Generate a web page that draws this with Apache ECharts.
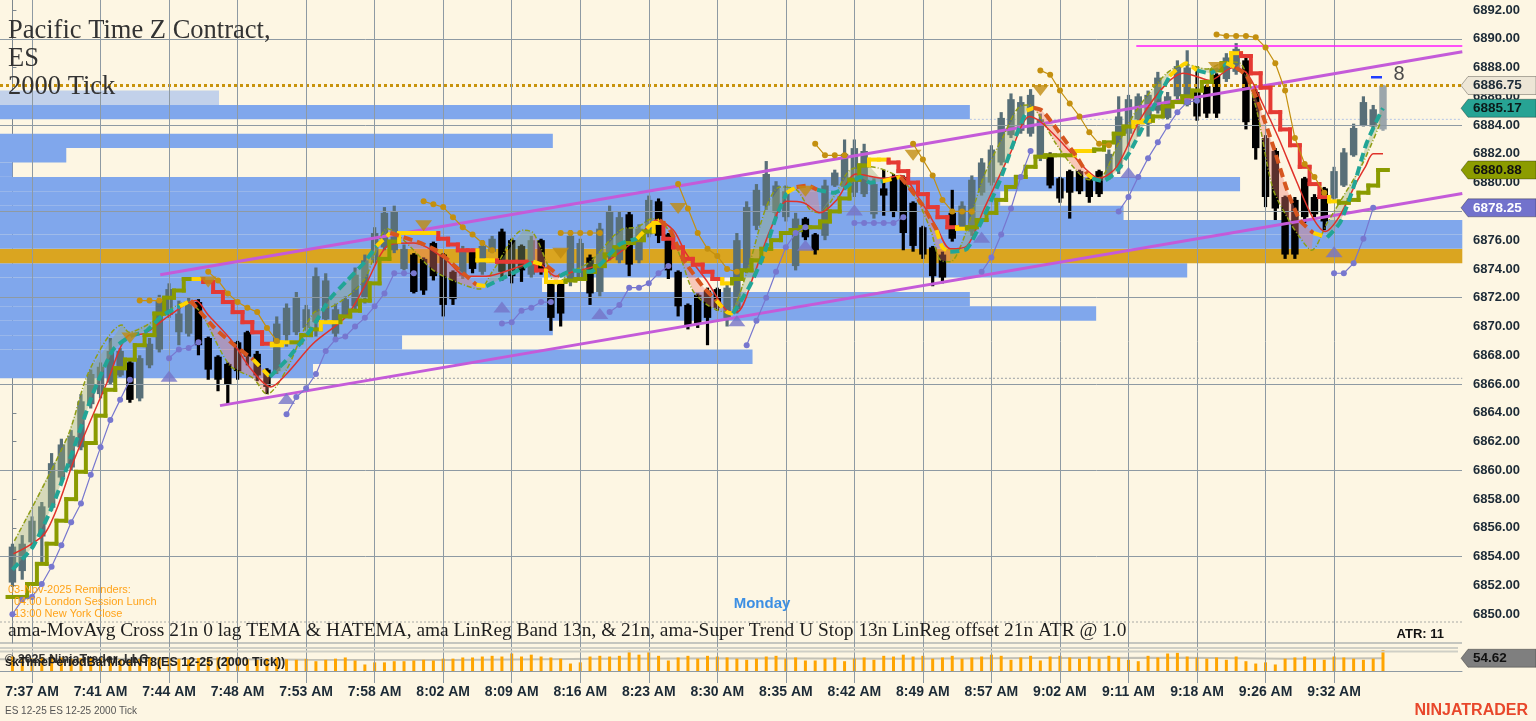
<!DOCTYPE html>
<html><head><meta charset="utf-8">
<script src="https://cdn.jsdelivr.net/npm/echarts@6/dist/echarts.min.js"></script>
<style>html,body{margin:0;padding:0;background:#fdf6e3;}#c{width:1536px;height:721px;}</style>
</head><body><div id="c"></div>
<script>
// ---------- data ----------
const timeLabels = ['7:37 AM','7:41 AM','7:44 AM','7:48 AM','7:53 AM','7:58 AM','8:02 AM','8:09 AM','8:16 AM','8:23 AM','8:30 AM','8:35 AM','8:42 AM','8:49 AM','8:57 AM','9:02 AM','9:11 AM','9:18 AM','9:26 AM','9:32 AM'];
const labelBars = [2,9,16,23,30,37,44,51,58,65,72,79,86,93,100,107,114,121,128,135];
const gridLevels = [6854,6860,6866,6872,6878,6884,6890];

const candleOpen = [6852.2,6853.0,6855.0,6855.4,6857.4,6859.5,6860.2,6861.6,6864.6,6865.3,6866.1,6866.6,6867.5,6865.0,6867.3,6868.4,6870.8,6869.6,6869.5,6871.7,
6869.2,6867.9,6867.4,6868.9,6869.6,6868.1,6867.0,6866.9,6869.4,6869.6,6869.9,6870.3,6870.5,6869.5,6870.8,6871.4,6872.0,6874.6,6875.5,6875.3,
6874.0,6875.0,6874.7,6875.8,6875.0,6873.8,6873.5,6875.3,6873.8,6875.2,6876.6,6876.0,6875.6,6873.6,6876.0,6873.0,6873.0,6873.2,6873.4,6874.8,
6872.4,6874.8,6874.6,6877.8,6874.6,6876.4,6878.7,6876.4,6873.8,6871.5,6872.2,6872.5,6872.6,6870.6,6871.2,6874.0,6877.0,6878.4,6877.9,6877.6,
6874.2,6877.5,6876.4,6876.3,6879.8,6879.7,6879.3,6879.2,6877.8,6879.6,6880.4,6880.4,6878.6,6876.9,6875.5,6875.0,6877.9,6876.9,6876.6,6879.3,
6880.0,6881.4,6883.3,6883.6,6883.4,6881.7,6882.0,6880.3,6880.8,6880.8,6880.3,6880.8,6880.3,6881.0,6883.4,6884.4,6884.1,6885.0,6884.5,6886.0,
6885.4,6886.3,6886.7,6887.5,6887.2,6887.7,6888.5,6886.3,6883.1,6882.2,6879.0,6878.8,6880.3,6879.0,6879.6,6878.9,6879.8,6881.9,6884.0,6883.9,6883.7];
const candleHigh = [6854.9,6855.5,6856.8,6857.8,6861.2,6862.2,6862.8,6865.3,6867.0,6867.5,6869.2,6868.5,6867.6,6868.0,6869.2,6872.2,6873.0,6871.8,6872.0,6871.9,
6869.3,6868.0,6867.5,6869.0,6869.7,6868.3,6867.1,6870.7,6871.6,6872.4,6871.5,6874.1,6873.7,6871.6,6872.1,6874.1,6875.0,6876.9,6878.3,6878.4,
6875.7,6875.1,6874.8,6875.9,6875.1,6873.9,6875.6,6875.4,6876.0,6876.3,6876.8,6876.1,6875.7,6876.3,6876.1,6873.1,6873.1,6876.7,6876.1,6875.0,
6877.2,6878.4,6878.0,6878.0,6877.1,6879.1,6878.9,6876.5,6873.9,6871.6,6872.3,6872.7,6872.7,6873.1,6876.5,6878.7,6879.9,6881.5,6880.1,6879.8,
6877.9,6877.6,6876.5,6880.2,6880.9,6883.0,6883.0,6882.7,6880.3,6880.9,6880.6,6880.5,6878.7,6877.0,6875.6,6875.2,6879.5,6878.7,6880.5,6881.7,
6882.6,6884.9,6886.2,6886.0,6886.5,6884.8,6882.1,6880.4,6880.9,6880.9,6880.4,6880.9,6882.3,6886.0,6886.1,6886.2,6886.4,6887.7,6886.3,6888.5,
6889.2,6888.1,6886.8,6887.6,6889.0,6889.7,6888.7,6886.5,6883.3,6882.4,6879.1,6879.0,6880.4,6879.2,6879.7,6881.1,6882.4,6884.1,6886.0,6885.4,6886.8];
const candleLow = [6851.9,6852.4,6854.7,6853.5,6857.2,6859.1,6860.0,6861.4,6864.3,6865.0,6866.0,6866.5,6864.7,6864.8,6867.1,6868.2,6870.6,6868.7,6869.3,6868.0,
6866.3,6865.5,6864.6,6866.3,6867.3,6866.2,6865.3,6866.7,6868.6,6869.4,6869.7,6869.3,6870.2,6869.1,6870.7,6871.1,6871.6,6874.4,6875.3,6875.1,
6873.9,6872.3,6872.2,6873.2,6870.7,6871.5,6873.3,6873.7,6873.6,6875.1,6873.2,6873.0,6873.1,6873.4,6873.6,6869.7,6870.0,6872.8,6873.2,6871.5,
6872.1,6874.6,6874.4,6873.5,6874.4,6876.2,6875.8,6873.3,6870.7,6869.8,6869.9,6868.7,6871.1,6870.0,6870.9,6873.7,6876.7,6878.1,6877.6,6877.3,
6873.9,6876.0,6875.0,6876.0,6879.7,6879.5,6879.0,6879.0,6877.5,6877.7,6877.6,6875.3,6875.2,6874.7,6872.8,6873.0,6875.9,6876.7,6876.3,6879.1,
6879.8,6881.2,6883.1,6883.4,6883.2,6881.5,6879.6,6878.6,6877.5,6879.2,6878.6,6879.0,6880.2,6880.6,6882.5,6883.2,6883.2,6884.8,6884.4,6885.8,
6885.3,6884.3,6884.5,6884.5,6887.0,6887.5,6883.7,6881.6,6878.3,6877.4,6874.7,6874.7,6877.2,6877.6,6876.7,6878.8,6879.7,6881.8,6883.9,6883.8,6883.6];
const candleClose = [6854.7,6854.9,6856.5,6857.5,6860.5,6861.8,6862.4,6864.8,6866.7,6867.2,6868.3,6868.3,6864.9,6867.8,6868.8,6871.8,6872.6,6870.9,6871.6,6868.7,
6867.0,6866.3,6866.0,6866.9,6867.9,6866.6,6865.8,6870.2,6871.3,6872.0,6871.2,6873.5,6873.2,6871.2,6871.9,6873.6,6874.6,6876.5,6877.9,6878.0,
6875.4,6872.4,6872.5,6873.5,6871.5,6871.9,6875.2,6874.0,6875.6,6876.1,6873.8,6873.5,6873.9,6876.0,6874.0,6870.6,6870.9,6876.3,6875.8,6872.3,
6876.8,6878.0,6877.6,6874.3,6876.8,6878.8,6876.3,6873.9,6871.4,6870.1,6870.2,6870.6,6871.3,6872.7,6876.0,6878.3,6879.5,6880.6,6879.8,6879.4,
6877.5,6876.2,6875.3,6879.8,6880.7,6882.0,6882.4,6882.2,6879.9,6879.1,6878.0,6876.5,6875.6,6875.0,6873.5,6873.4,6876.1,6878.4,6880.2,6881.4,
6882.3,6884.5,6885.8,6885.6,6886.1,6884.4,6879.8,6878.9,6879.3,6879.4,6879.0,6879.2,6882.0,6884.6,6885.8,6886.0,6886.1,6887.3,6886.0,6888.1,
6888.0,6884.6,6884.8,6884.8,6888.7,6889.3,6884.2,6882.4,6879.0,6878.2,6875.0,6875.0,6877.6,6877.8,6877.3,6880.8,6882.1,6883.8,6885.6,6885.1,6886.75];

const volume = [62,58,55,60,66,58,52,55,60,57,54,50,48,52,60,58,55,52,50,56,54,58,60,52,50,48,55,58,50,48,52,
42,48,53,58,45,28,37,37,42,42,45,48,45,53,53,58,58,62,65,62,75,62,70,62,58,53,32,37,62,65,62,65,87,70,82,65,45,58,65,53,
65,62,58,53,48,53,62,65,53,58,45,45,53,58,42,53,58,48,65,62,70,62,65,53,58,65,53,58,62,70,65,48,58,65,45,62,65,58,53,62,
53,65,58,48,42,65,58,75,78,62,58,53,58,48,62,42,32,37,28,53,58,62,53,48,62,58,53,48,53,98];
const volumeAvg = [[-1.27,50],[15,52],[30,48],[45,47],[60,52],[75,55],[90,53],[105,56],[120,57],[130,53],[140,54.62]];

// super-trend stop (L = long/olive, S = short/red, F = flip/yellow)
const stopVal = [6851.2,6851.2,6852.1,6853.5,6854.9,6856.5,6858.0,6859.9,6861.9,6863.8,6865.6,6867.1,6867.7,6868.7,6869.4,6870.9,6872.0,6872.5,6873.3,6873.3,
6873.1,6872.4,6871.7,6871.0,6870.3,6869.6,6868.8,6868.7,6868.9,6868.9,6869.4,6869.8,6870.3,6870.3,6870.7,6871.1,6871.8,6873.0,6874.7,6875.9,
6876.5,6876.5,6876.5,6876.5,6876.1,6875.7,6875.3,6875.3,6874.6,6874.6,6874.5,6874.5,6874.5,6874.4,6873.9,6873.1,6873.1,6873.2,6873.3,6873.8,
6874.2,6875.0,6875.5,6875.8,6876.0,6876.6,6877.2,6876.1,6875.5,6874.7,6874.3,6873.8,6873.3,6873.0,6873.3,6873.9,6874.6,6875.4,6876.0,6876.5,
6876.7,6876.9,6876.9,6877.3,6878.0,6878.9,6880.2,6881.2,6881.6,6881.6,6881.4,6880.8,6880.0,6879.2,6878.3,6877.6,6876.9,6876.8,6876.9,6877.4,
6877.9,6878.8,6879.7,6880.4,6881.1,6881.8,6881.9,6881.9,6881.9,6882.2,6882.2,6882.3,6882.8,6883.4,6883.9,6884.2,6884.3,6884.6,6885.3,6885.6,
6886.0,6886.4,6887.0,6887.8,6888.3,6889.0,6888.8,6887.6,6886.6,6884.9,6883.7,6882.6,6881.1,6879.9,6879.0,6878.7,6878.6,6878.8,6879.3,6879.8,6880.88];
const stopSide = ('LLLLLLLLLLLLLLLLLLL'+'F'+'SSSSSSS'+'FF'+'LLL'+'FF'+'LLLLLL'+'FFFF'+'SSSS'+'FF'+'SSSSS'+'FF'+'LLLLLLLLL'+'F'+'SSSSSS'+'F'+
  'LLLLLLLLLLLLLL'+'FF'+'SSSSSSS'+'F'+'LLLLLLLLLLL'+'FF'+'LLLL'+'FF'+'LLLLLLLL'+'F'+'SSSSSSSSS'+'F'+'LLLLL').split('');

// moving average (T teal up, O orange down, Y yellow turn)
const maPts = [[0,6853.1,'T'],[2.1,6854.7,'T'],[4.2,6857.7,'T'],[6.2,6861.4,'T'],[8.2,6865.3,'T'],[10.3,6868.4,'T'],[12,6869.3,'T'],[13.7,6869.7,'T'],[15.4,6870.8,'T'],
[17.1,6871.4,'Y'],[18.2,6871.8,'O'],[20.5,6870.0,'O'],[22.5,6868.8,'O'],[24.6,6867.7,'Y'],[26.3,6866.5,'T'],[28.3,6867.9,'T'],[30.7,6870.0,'T'],[32.4,6871.9,'T'],
[34.2,6873.2,'T'],[36.0,6874.5,'T'],[37.2,6875.6,'Y'],[38.6,6876.5,'O'],[41.3,6875.9,'O'],[43.3,6875.3,'O'],[45.7,6873.9,'O'],[47.4,6872.9,'Y'],[48.4,6872.8,'T'],
[51.1,6873.7,'T'],[53.2,6874.5,'Y'],[54.6,6874.2,'O'],[55.9,6873.5,'T'],[57.3,6873.9,'T'],[59,6873.8,'T'],[62,6875.7,'T'],[63.8,6876.1,'Y'],[65.1,6877.0,'Y'],
[66.1,6877.4,'O'],[67.2,6876.7,'O'],[68.5,6874.7,'O'],[70.5,6872.8,'O'],[71.9,6871.8,'Y'],[73,6871.0,'Y'],[73.6,6870.9,'T'],[75.3,6872.8,'T'],[76.7,6874.9,'T'],
[78,6877.6,'T'],[79.1,6879.3,'Y'],[80.1,6879.7,'O'],[81.2,6879.8,'O'],[82.2,6879.5,'T'],[83.9,6879.3,'T'],[85.2,6879.7,'T'],[86.6,6880.4,'T'],[87.6,6880.0,'T'],
[88.9,6880.1,'Y'],[90.7,6880.4,'O'],[92.9,6878.5,'O'],[94.4,6876.7,'Y'],[95,6875.5,'Y'],[95.8,6875.2,'T'],[97.5,6875.4,'T'],[99.2,6877.6,'T'],[100.9,6880.2,'T'],
[102.6,6883.4,'T'],[103.6,6885.0,'Y'],[104.3,6885.2,'O'],[105.2,6885.0,'O'],[106.7,6883.7,'O'],[108.7,6881.8,'O'],[109.8,6880.6,'Y'],[110.3,6880.3,'T'],
[111.4,6880.1,'T'],[112.8,6880.8,'T'],[114.2,6882.2,'T'],[115.5,6883.9,'T'],[116.9,6885.7,'T'],[118.2,6887.4,'Y'],[119.9,6888.3,'Y'],[121,6887.8,'T'],
[122.3,6887.6,'T'],[124,6888.3,'Y'],[125,6888.0,'O'],[126.1,6887.4,'O'],[127.4,6885.3,'O'],[128.8,6882.5,'O'],[130.2,6879.5,'O'],[131.5,6877.4,'O'],
[132.9,6876.5,'Y'],[134.3,6876.2,'T'],[135.6,6877.2,'T'],[136.9,6879.5,'T'],[138.3,6882.7,'T'],[139.7,6884.8,'T'],[140,6885.17,'T']];

const temaPts = [[0.1,6854.2],[3.4,6855.7],[6.4,6860.9],[9.6,6866.0],[11.9,6869.4],[13.4,6869.5],[15.9,6870.7],[18.7,6871.8],[20,6870.8],[22.3,6869.1],[24.3,6867.1],
[26.4,6865.8],[28,6866.7],[30.7,6868.8],[34.1,6870.7],[36,6872.8],[38.6,6875.7],[41,6875.8],[44,6874.8],[46.4,6873.5],[48.4,6873.5],[51.1,6874.0],[53.5,6874.5],
[55.5,6873.5],[57.3,6873.8],[60.4,6874.4],[63.8,6876.1],[65.8,6877.4],[67.5,6876.7],[68.8,6875.1],[70.9,6873.2],[73,6871.1],[74,6871.0],[75.7,6873.5],[77.4,6876.7],
[79.1,6878.7],[80.8,6878.6],[82.5,6877.9],[84.2,6878.8],[86.2,6880.6],[89,6880.3],[90.7,6880.5],[92.7,6878.8],[94.4,6876.9],[95.8,6875.4],[97.5,6875.6],[99.2,6878.1],
[101.9,6882.0],[103.9,6884.6],[104.9,6884.3],[107.3,6882.7],[109.7,6880.9],[111,6880.3],[112.8,6881.1],[115.2,6884.4],[117.9,6886.9],[119.6,6887.6],[120.9,6887.4],
[122.3,6887.1],[124.7,6888.0],[126.1,6887.6],[127.7,6885.5],[129.4,6883.0],[131.1,6880.2],[132.8,6877.6],[134.1,6876.6],[135.5,6877.6],[137.2,6879.9],[138.2,6881.1],
[139,6882.0],[140,6882.0]];

const bandPts = [[0.2,6855.1],[5.6,6862.3],[7.9,6867.0],[11.2,6870.1],[11.9,6869.6],[14.5,6870.4],[17.8,6871.7],[19.2,6871.0],[22.2,6867.3],[24.6,6866.4],[26,6865.3],
[28,6867.0],[30.7,6870.9],[33,6871.5],[35.9,6873.2],[38.3,6876.8],[39,6876.6],[41,6875.3],[43,6873.9],[45.7,6873.0],[47.7,6872.6],[49.1,6873.9],[52.2,6876.7],
[53.2,6876.5],[54.6,6874.4],[55.5,6872.9],[56.9,6873.7],[59,6874.5],[62.4,6876.8],[63.8,6876.9],[65.4,6877.5],[66.8,6876.9],[68.2,6874.9],[69.5,6872.5],[71.2,6871.4],
[73,6871.0],[73.6,6871.1],[75.3,6874.4],[77,6878.3],[78.4,6879.7],[80.1,6879.5],[81.5,6878.1],[82.5,6877.9],[83.9,6879.0],[85.6,6880.9],[87.6,6881.1],[90.7,6880.3],
[92.4,6878.8],[93.8,6876.7],[94.8,6874.6],[95.8,6874.5],[97.1,6876.0],[99.2,6880.4],[101.2,6883.2],[102.9,6885.3],[103.9,6885.4],[105.3,6884.2],[106.6,6882.7],
[108.6,6880.9],[110,6880.2],[111.4,6880.5],[112.8,6882.5],[114.8,6885.0],[117.9,6887.6],[119.9,6888.2],[122,6887.9],[124,6888.4],[125.4,6888.3],[127,6885.3],
[128.7,6879.7],[130.2,6877.6],[131.5,6876.2],[132.7,6875.3],[134.3,6877.2],[135.9,6879.0],[137.9,6881.3],[139.7,6884.1]];

// fill between band and MA: [from, to, U/D]
const fillSegs = [[0,17.1,'U'],[17.1,26.3,'D'],[26.3,38.3,'U'],[38.3,48.4,'D'],[48.4,53.2,'U'],[53.2,55.9,'D'],[55.9,65.4,'U'],[65.4,73.6,'D'],[73.6,80.1,'U'],
[80.1,82.5,'D'],[82.5,89,'U'],[89,95.8,'D'],[95.8,104,'U'],[104,110,'D'],[110,125,'U'],[125,133,'D'],[133,140,'U']];

const goldSegs = [
 [[13,6871.8],[14,6871.8],[15,6871.8]],
 [[20,6873.8],[21,6873.2],[22,6872.3],[23,6871.7],[24,6871.3],[25,6871.0],[26,6869.9],[27,6869.0]],
 [[42,6878.7],[43,6878.5],[44,6878.3],[45,6877.6],[46,6876.9],[47,6876.4],[48,6875.8],[49,6875.3]],
 [[56,6876.5],[57,6876.5],[58,6876.5],[59,6876.5],[60,6876.5]],
 [[68,6879.9],[69,6878.2],[70,6876.5],[71,6875.4],[72,6874.9],[73,6874.0],[74,6873.8]],
 [[82,6882.7],[83,6881.9],[84,6881.9],[85,6881.9]],
 [[92,6882.7],[93,6881.6],[94,6880.5],[95,6878.8],[96,6878.0],[97,6878.0],[98,6878.0]],
 [[105,6887.8],[106,6887.5],[107,6886.4],[108,6885.5],[109,6884.6],[110,6883.5],[111,6882.7],[112,6882.6]],
 [[123,6890.3],[124,6890.2],[125,6890.2],[126,6890.2],[127,6890.1],[128,6889.4],[129,6888.3],[130,6886.4],[131,6883.1],[132,6881.3],[133,6880.4],[134,6879.3]]
];
const purpleSegs = [
 [[0,6850.0],[1,6851.0],[2,6851.2],[3,6852.1],[4,6853.3],[5,6854.8],[6,6856.4],[7,6857.7],[8,6859.7],[9,6861.6],[10,6863.5],[11,6864.9],[12,6866.3]],
 [[16,6867.8],[17,6868.4],[18,6868.5],[19,6868.9]],
 [[28,6863.9],[29,6865.1],[30,6865.7],[31,6866.7],[32,6868.3],[33,6869.1],[34,6869.3],[35,6870.0],[36,6870.6],[37,6871.4],[38,6872.3],[39,6873.7],[40,6873.7],[41,6873.7]],
 [[50,6870.2],[51,6870.3],[52,6871.1],[53,6871.3],[54,6871.7],[55,6871.7]],
 [[61,6871.0],[62,6871.5],[63,6872.7],[64,6872.7],[65,6873.0],[66,6873.7],[67,6874.2]],
 [[75,6868.7],[76,6870.4],[77,6872.0],[78,6873.8],[79,6875.5],[80,6876.5],[81,6876.9]],
 [[86,6877.2],[87,6877.2],[88,6877.2],[89,6877.2],[90,6877.2],[91,6877.6]],
 [[99,6873.8],[100,6874.8],[101,6876.4],[102,6878.2],[103,6880.4],[104,6882.2]],
 [[113,6878.0],[114,6879.0],[115,6880.4],[116,6881.7],[117,6882.8],[118,6883.9],[119,6884.9],[120,6885.6],[121,6885.7]],
 [[135,6873.7],[136,6873.7],[137,6874.4],[138,6876.1],[139,6878.25]]
];
const upTriangles = [[16,6866.55],[28,6865.0],[50,6871.35],[60,6870.9],[74,6870.4],[81,6875.65],[86,6878.1],[99,6876.2],[114,6880.7],[135,6875.2]];
const downTriangles = [[12,6869.2],[20,6873.1],[42,6877.0],[56,6875.1],[68,6878.2],[81,6879.4],[92,6881.9],[105,6886.4],[123,6888.0]];

// volume profile rows (1 pt tall): low price, right end (bar index), kind
const profLow = [6866.4,6867.4,6868.4,6869.4,6870.4,6871.4,6872.4,6873.4,6874.4,6875.4,6876.4,6877.4,6878.4,6879.4,6880.4,6881.4,6882.4,6883.4,6884.4,6885.4];
const profEnd = [30.7,75.6,39.8,55.2,110.7,97.8,54.1,120.0,148.1,148.1,148.1,113.5,100.9,125.4,0.0,5.5,55.2,null,97.8,21.1];
const profKind = ['b','b','b','b','b','b','b','b','o','b','b','b','b','b','b','b','b','b','b','l'];

const chanUpper = [[15.1,6873.6],[148.1,6889.1]];
const chanLower = [[21.2,6864.5],[148.1,6879.25]];
const highLine = [[114.8,6889.5],[148.1,6889.5]];
const nakedGrey = [[30.7,6866.4],[148.1,6866.4]];
const nakedBlue = [[97.8,6884.4],[148.1,6884.4]];

// ---------- layout constants ----------
const X_MIN = -1.27, X_MAX = 148.07, Y_MIN = 6848, Y_MAX = 6892.695, VOL_MAX = 90;
const N = candleClose.length;
const lastPrice = candleClose[N-1];
const lastMA = maPts[maPts.length-1][1];
const lastStop = stopVal[stopVal.length-1];
const lastPurple = purpleSegs[purpleSegs.length-1].slice(-1)[0][1];
const lastVolAvg = volumeAvg[volumeAvg.length-1][1];

const chart = echarts.init(document.getElementById('c'));
const AX = '#8e9aa3';
const SANS = '"Liberation Sans", Arial, sans-serif';
const LBL = {fontFamily:'Liberation Sans, Arial, sans-serif', fontWeight:'bold', color:'#1c2a36'};
const series = [];

// profile
series.push({type:'custom', xAxisIndex:0, yAxisIndex:0, z:1, silent:true,
  data: profLow.map((p,k)=>[profEnd[k], p, k]).filter(d=>d[0]!==null),
  encode:{x:0,y:1},
  renderItem:(params, api)=>{
    const end=api.value(0), low=api.value(1), k=api.value(2);
    const a=api.coord([X_MIN, low+1]), b=api.coord([end, low]);
    const fill = profKind[k]==='o' ? '#daa520' : (profKind[k]==='l' ? '#c2d1ea' : '#80a7ec');
    return {type:'rect', shape:{x:a[0]-2, y:a[1], width:b[0]-a[0]+2, height:b[1]-a[1]}, style:{fill}};
  }});
// horizontal grid
series.push({type:'line', xAxisIndex:0, yAxisIndex:0, data:[], z:2, silent:true,
  markLine:{symbol:'none', silent:true, animation:false, label:{show:false}, lineStyle:{color:AX, width:1, type:'solid'},
    data: gridLevels.map(v=>({yAxis:v}))}});
// vertical grid (full height)
series.push({type:'line', xAxisIndex:2, yAxisIndex:2, data:[], z:2, silent:true,
  markLine:{symbol:'none', silent:true, animation:false, label:{show:false}, lineStyle:{color:AX, width:1, type:'solid'},
    data: labelBars.map(v=>({xAxis:v}))}});
// naked levels
[[nakedGrey,'#9aa0a6',[2,2]],[nakedBlue,'#b5c6e6',[2,2]]].forEach(([d,c,t])=>{
  series.push({type:'line', xAxisIndex:0, yAxisIndex:0, data:d, z:2, symbol:'none', silent:true, lineStyle:{color:c, width:1, type:t}});
});
// last price dotted
series.push({type:'line', xAxisIndex:0, yAxisIndex:0, data:[[X_MIN,lastPrice],[X_MAX,lastPrice]], z:3, symbol:'none', silent:true,
  lineStyle:{color:'#c8930c', width:3, type:[3,3]}});
// candles
series.push({type:'custom', xAxisIndex:0, yAxisIndex:0, z:3, silent:true,
  data: candleClose.map((c,i)=>[i, candleOpen[i], c, candleLow[i], candleHigh[i]]),
  encode:{x:0, y:[1,2,3,4]},
  renderItem:(params, api)=>{
    const i=api.value(0), o=api.value(1), c=api.value(2), l=api.value(3), h=api.value(4);
    const pO=api.coord([i,o]), pC=api.coord([i,c]), pL=api.coord([i,l]), pH=api.coord([i,h]);
    const bw = api.size([1,0])[0]*0.76;
    const col = i===N-1 ? '#9ca6ab' : (c>=o ? '#586f78' : '#000000');
    const top=Math.min(pO[1],pC[1]), bot=Math.max(pO[1],pC[1]);
    return {type:'group', children:[
      {type:'rect', shape:{x:pH[0]-1.6, y:pH[1], width:3.2, height:pL[1]-pH[1]}, style:{fill:col}},
      {type:'rect', shape:{x:pO[0]-bw/2, y:top, width:bw, height:Math.max(bot-top,2)}, style:{fill:col}}
    ]};
  }});
// fills
series.push({type:'custom', xAxisIndex:0, yAxisIndex:0, z:4, silent:true,
  data: fillSegs.map(f=>[f[0], bandPts.find(p=>p[0]>=f[0])[1]]),
  encode:{x:0,y:1},
  renderItem:(params, api)=>{
    const f=fillSegs[params.dataIndex];
    const top=bandPts.filter(p=>p[0]>=f[0]&&p[0]<=f[1]);
    const bot=maPts.filter(p=>p[0]>=f[0]&&p[0]<=f[1]).slice().reverse();
    const pts=top.concat(bot).map(p=>api.coord([p[0],p[1]]));
    return {type:'polygon', shape:{points:pts}, style:{fill: f[2]==='U' ? 'rgba(150,172,120,0.38)' : 'rgba(240,125,115,0.38)'}};
  }});
// channel + magenta
[chanUpper, chanLower].forEach(d=>series.push({type:'line', xAxisIndex:0, yAxisIndex:0, data:d, z:5, symbol:'none', silent:true, lineStyle:{color:'#c45bd9', width:3}}));
series.push({type:'line', xAxisIndex:0, yAxisIndex:0, data:highLine, z:5, symbol:'none', silent:true, lineStyle:{color:'#ff1aff', width:1.5}});
// band (olive dash-dot)
series.push({type:'line', xAxisIndex:0, yAxisIndex:0, data:bandPts, z:6, symbol:'none', silent:true, smooth:0.3, lineStyle:{color:'#8f9d14', width:1.5, type:[5,2,1,2]}});
// TEMA
series.push({type:'line', xAxisIndex:0, yAxisIndex:0, data:temaPts, z:6, symbol:'none', silent:true, smooth:0.3, lineStyle:{color:'#e0322a', width:1.5}});
// stop
const SIDE = {L:'#8a9b00', S:'#e53a33', F:'#ffd400'};
series.push({type:'custom', xAxisIndex:0, yAxisIndex:0, z:7, silent:true,
  data: stopVal.map((v,i)=>[i,v]), encode:{x:0,y:1},
  renderItem:(params, api)=>{
    const i=api.value(0), v=api.value(1);
    const a=api.coord([i-0.5,v]), b=api.coord([i+0.5,v]);
    const col=SIDE[stopSide[i]];
    const ch=[{type:'line', shape:{x1:a[0],y1:a[1],x2:b[0],y2:b[1]}, style:{stroke:col, lineWidth:4, lineCap:'square'}}];
    if(i>0){const c=api.coord([i-0.5, stopVal[i-1]]); ch.push({type:'line', shape:{x1:c[0],y1:c[1],x2:a[0],y2:a[1]}, style:{stroke:col, lineWidth:4, lineCap:'square'}});}
    return {type:'group', children:ch};
  }});
// MA dashed segments
const MA_COL = {T:'#22a596', O:'#d6561f', Y:'#ffd400'};
(function(){
  let run=[maPts[0]];
  for(let k=1;k<maPts.length;k++){
    run.push(maPts[k]);
    if(maPts[k][2]!==maPts[k-1][2] || k===maPts.length-1){
      series.push({type:'line', xAxisIndex:0, yAxisIndex:0, z:7, symbol:'none', silent:true, smooth:0.2,
        data: run.map(p=>[p[0],p[1]]), lineStyle:{color:MA_COL[maPts[k-1][2]], width:4, type:[9,5]}});
      run=[maPts[k]];
    }
  }
})();
// gold / purple dotted lines
goldSegs.forEach(d=>series.push({type:'line', xAxisIndex:0, yAxisIndex:0, data:d, z:8, symbol:'circle', symbolSize:6, silent:true,
  itemStyle:{color:'#c4900f'}, lineStyle:{color:'#c4900f', width:1.2}}));
purpleSegs.forEach(d=>series.push({type:'line', xAxisIndex:0, yAxisIndex:0, data:d, z:8, symbol:'circle', symbolSize:6, silent:true,
  itemStyle:{color:'#7777cf'}, lineStyle:{color:'#7777cf', width:1.2}}));
// triangles
series.push({type:'scatter', xAxisIndex:0, yAxisIndex:0, data:upTriangles, z:9, symbol:'triangle', symbolSize:[17,11], silent:true, itemStyle:{color:'#7474c8'}});
series.push({type:'scatter', xAxisIndex:0, yAxisIndex:0, data:downTriangles, z:9, symbol:'triangle', symbolRotate:180, symbolSize:[17,11], silent:true, itemStyle:{color:'#c08c10'}});
// volume
series.push({type:'bar', xAxisIndex:1, yAxisIndex:1, data: volume.map((v,i)=>[i,v]), barWidth:3, silent:true, itemStyle:{color:'#ffa500'}, z:3});
series.push({type:'line', xAxisIndex:1, yAxisIndex:1, data: volumeAvg, symbol:'none', silent:true, z:2, lineStyle:{color:'#c3c1b6', width:2}});

chart.setOption({
  animation:false,
  backgroundColor:'#fdf6e3',
  grid:[
    {left:0, top:0, width:1462, height:643},
    {left:0, top:650, width:1462, height:21},
    {left:0, top:0, width:1462, height:683}
  ],
  xAxis:[
    {gridIndex:0, type:'value', min:X_MIN, max:X_MAX, show:false},
    {gridIndex:1, type:'value', min:X_MIN, max:X_MAX, offset:4,
      axisLine:{show:true, lineStyle:{color:AX}},
      axisTick:{show:true, customValues:labelBars, length:8, lineStyle:{color:AX}},
      axisLabel:Object.assign({customValues:labelBars, fontSize:14, margin:10,
        formatter:(v)=>timeLabels[labelBars.indexOf(Math.round(v))]||''}, LBL),
      splitLine:{show:false}},
    {gridIndex:2, type:'value', min:X_MIN, max:X_MAX, show:false}
  ],
  yAxis:[
    {gridIndex:0, type:'value', position:'right', min:Y_MIN, max:Y_MAX, interval:2,
      axisLine:{show:true, lineStyle:{color:'#7d878e'}},
      axisTick:{show:true, length:4, lineStyle:{color:'#7d878e'}},
      axisLabel:Object.assign({showMinLabel:false, showMaxLabel:false, fontSize:13, margin:11, formatter:(v)=>v.toFixed(2)}, LBL),
      splitLine:{show:false}},
    {gridIndex:1, type:'value', position:'right', min:0, max:VOL_MAX,
      axisLine:{show:true, lineStyle:{color:'#9aa0a4'}}, axisTick:{show:false}, axisLabel:{show:false}, splitLine:{show:false}},
    {gridIndex:2, type:'value', min:0, max:1, show:false}
  ],
  series
});

// ---------- annotations (texts + right-side value boxes located through the axes) ----------
const txt = (x,y,text,font,fill,align)=>({type:'text', x, y, silent:true, z:50,
  style:{text, font, fill, align:align||'left', verticalAlign:'middle'}});
const hline = (y,x1,x2,stroke,w,dash)=>({type:'line', silent:true, z:40, shape:{x1,y1:y,x2,y2:y}, style:{stroke, lineWidth:w, lineDash:dash||null}});
function valueBox(v, yAxisIndex, bg, fg){
  const y = chart.convertToPixel({yAxisIndex}, v);
  const x0 = 1462, h = 18;
  return [
    {type:'polygon', silent:true, z:60, shape:{points:[[x0-1,y],[x0+6,y-h/2],[1536,y-h/2],[1536,y+h/2],[x0+6,y+h/2]]},
      style:{fill:bg, stroke:'rgba(0,0,0,0.3)', lineWidth:1}},
    {type:'text', silent:true, z:61, x:x0+11, y:y, style:{text:v.toFixed(2), font:'bold 13.5px '+SANS, fill:fg, align:'left', verticalAlign:'middle'}}
  ];
}
const graphics = [
  hline(622,0,1462,'#a9aaa6',1,[2,2]),
  hline(643,0,1462,'#8e969c',1.2),
  hline(648,0,1458,'#cfcfc6',2),
  hline(651.5,0,1458,'#cfcfc6',2),
  txt(8,31,'Pacific Time Z Contract,','26.5px "Liberation Serif", serif','#333'),
  txt(8,59,'ES','26.5px "Liberation Serif", serif','#333'),
  txt(8,87,'2000 Tick','26.5px "Liberation Serif", serif','#333'),
  txt(8,590,'03-Nov-2025 Reminders:','11px '+SANS,'#ffa31a'),
  txt(14,602,'04:00 London Session Lunch','11px '+SANS,'#ffa31a'),
  txt(14,614,'13:00 New York Close','11px '+SANS,'#ffa31a'),
  txt(762,604,'Monday','bold 15px '+SANS,'#3d8fe3','center'),
  txt(8,631,'ama-MovAvg Cross 21n 0 lag TEMA & HATEMA, ama LinReg Band 13n, & 21n, ama-Super Trend U Stop 13n LinReg offset 21n ATR @ 1.0','19.4px "Liberation Serif", serif','#1e1e1e'),
  txt(1444,634,'ATR: 11','bold 13px '+SANS,'#111','right'),
  txt(5,660,'© 2025 NinjaTrader, LLC','bold 12.5px '+SANS,'#333'),
  txt(5,663,'skTimePeriodBarModNT8(ES 12-25 (2000 Tick))','bold 12.5px '+SANS,'#222'),
  txt(5,711,'ES 12-25 ES 12-25 2000 Tick','10px '+SANS,'#555'),
  txt(1528,711,'NINJATRADER','bold 16px '+SANS,'#e8472b','right'),
  txt(1399,74,'8','20px '+SANS,'#4a4a4a','center'),
  {type:'rect', silent:true, z:50, shape:{x:1371, y:76, width:11, height:2.5}, style:{fill:'#1f3dff'}}
].concat(
  valueBox(lastPrice, 0, '#ede6d6', '#1c2a36'),
  valueBox(lastMA, 0, '#27a394', '#0b1a1a'),
  valueBox(lastStop, 0, '#8c9c00', '#111111'),
  valueBox(lastPurple, 0, '#7272cc', '#ffffff'),
  valueBox(lastVolAvg, 1, '#7f7f7f', '#111111')
);
chart.setOption({graphic: graphics});
</script>
</body></html>
